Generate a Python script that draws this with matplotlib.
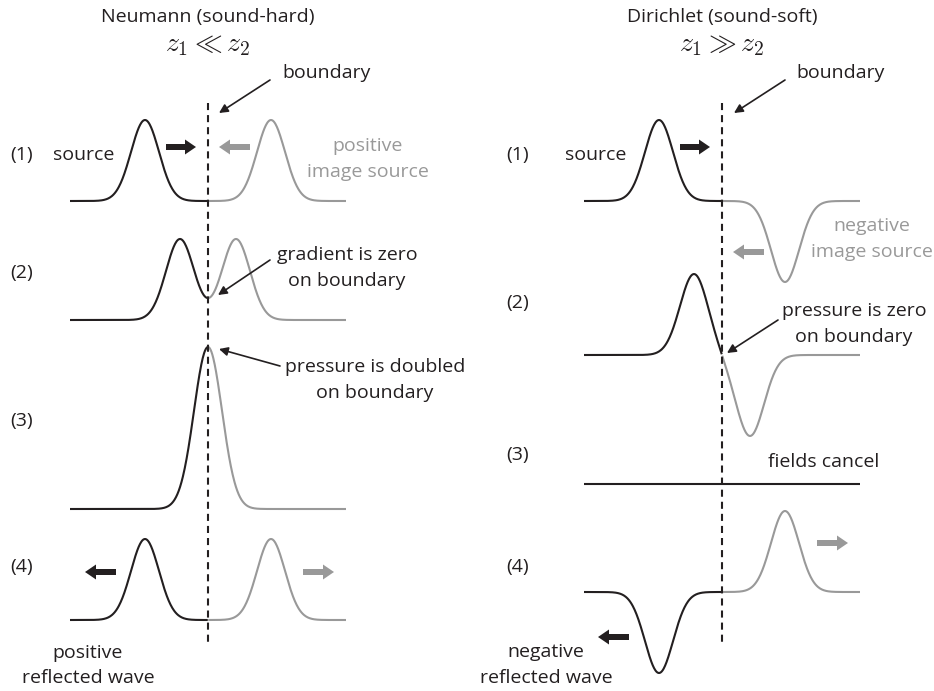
import numpy as np
import matplotlib
matplotlib.use("Agg")
import matplotlib.pyplot as plt

plt.rcParams['font.family'] = ['Open Sans', 'DejaVu Sans']
plt.rcParams['mathtext.fontset'] = 'cm'

# pulse description per time step (1)..(4)
# source offset from the boundary (px), image sits at the mirrored spot
src_offset = [-63, -28, 0, 63]
amplitude = 81
sigma = 14
image_sign_left = 1     # Neumann: positive image
image_sign_right = -1   # Dirichlet: negative image
row_labels = ['(1)', '(2)', '(3)', '(4)']

titles = ['Neumann (sound-hard)', 'Dirichlet (sound-soft)']
conditions = [r'$z_1 \ll z_2$', r'$z_1 \gg z_2$']

INK = '#231f20'
GREY = '#999999'

# layout (pixels)
xb = [208, 722]
half_span = 138
base_left = [201, 320, 509, 620]
base_right = [201, 355, 484, 592]
label_y_left = [155, 273, 421, 567]
label_y_right = [155, 303, 455, 567]

fig = plt.figure(figsize=(9.34, 6.91), dpi=100)
ax = fig.add_axes([0, 0, 1, 1])
ax.set_xlim(0, 934)
ax.set_ylim(691, 0)
ax.axis('off')


def pulse(x, c):
    return np.exp(-(x - c) ** 2 / (2 * sigma ** 2))


def draw_row(b, base, off, sign):
    x = np.linspace(b - half_span, b + half_span, 600)
    y = amplitude * pulse(x, b + off) + sign * amplitude * pulse(x, b - off)
    py = base - y
    left = x <= b
    right = x >= b
    flat = np.allclose(y, 0)
    ax.plot(x[left], py[left], color=INK, lw=1.5, solid_capstyle='butt')
    ax.plot(x[right], py[right], color=INK if flat else GREY, lw=1.5,
            solid_capstyle='butt')


for i in range(4):
    draw_row(xb[0], base_left[i], src_offset[i], image_sign_left)
    draw_row(xb[1], base_right[i], src_offset[i], image_sign_right)

# boundaries
for b in xb:
    ax.plot([b, b], [103, 645], color=INK, lw=1.5, ls=(0, (3.4, 2.4)))

fs = 14
for k, b in enumerate(xb):
    ax.text(b, 17, titles[k], ha='center', va='center', fontsize=fs, color=INK)
    ax.text(b, 44, conditions[k], ha='center', va='center', fontsize=20, color=INK)

for i in range(4):
    ax.text(22, label_y_left[i], row_labels[i], ha='center', va='center', fontsize=fs, color=INK)
    ax.text(518, label_y_right[i], row_labels[i], ha='center', va='center', fontsize=fs, color=INK)


def block_arrow(x0, x1, y, color):
    ax.arrow(x0, y, x1 - x0, 0, width=6, head_width=15, head_length=11,
             length_includes_head=True, color=color, lw=0)


def pointer(xy_from, xy_to):
    ax.annotate('', xy=xy_to, xytext=xy_from,
                arrowprops=dict(arrowstyle='-|>', color=INK, lw=1.2,
                                mutation_scale=13, shrinkA=0, shrinkB=0))


# left panel texts and arrows
ax.text(84, 155, 'source', ha='center', va='center', fontsize=fs, color=INK)
ax.text(368, 146, 'positive', ha='center', va='center', fontsize=fs, color=GREY)
ax.text(368, 172, 'image source', ha='center', va='center', fontsize=fs, color=GREY)
ax.text(327, 73, 'boundary', ha='center', va='center', fontsize=fs, color=INK)
pointer((270, 80), (219, 113))
block_arrow(166, 196, 147, INK)
block_arrow(250, 219, 147, GREY)

ax.text(347, 255, 'gradient is zero', ha='center', va='center', fontsize=fs, color=INK)
ax.text(347, 281, 'on boundary', ha='center', va='center', fontsize=fs, color=INK)
pointer((270, 260), (218, 295))

ax.text(375, 367, 'pressure is doubled', ha='center', va='center', fontsize=fs, color=INK)
ax.text(375, 393, 'on boundary', ha='center', va='center', fontsize=fs, color=INK)
pointer((280, 366), (219, 349))

block_arrow(116, 85, 572, INK)
block_arrow(303, 334, 572, GREY)
ax.text(88, 653, 'positive', ha='center', va='center', fontsize=fs, color=INK)
ax.text(88, 678, 'reflected wave', ha='center', va='center', fontsize=fs, color=INK)

# right panel texts and arrows
ax.text(596, 155, 'source', ha='center', va='center', fontsize=fs, color=INK)
ax.text(841, 73, 'boundary', ha='center', va='center', fontsize=fs, color=INK)
pointer((785, 80), (734, 113))
block_arrow(680, 710, 147, INK)

ax.text(872, 226, 'negative', ha='center', va='center', fontsize=fs, color=GREY)
ax.text(872, 252, 'image source', ha='center', va='center', fontsize=fs, color=GREY)
block_arrow(764, 733, 252, GREY)

ax.text(854, 311, 'pressure is zero', ha='center', va='center', fontsize=fs, color=INK)
ax.text(854, 337, 'on boundary', ha='center', va='center', fontsize=fs, color=INK)
pointer((778, 320), (727, 353))

ax.text(824, 462, 'fields cancel', ha='center', va='center', fontsize=fs, color=INK)

block_arrow(817, 848, 543, GREY)
block_arrow(629, 598, 637, INK)
ax.text(546, 652, 'negative', ha='center', va='center', fontsize=fs, color=INK)
ax.text(546, 678, 'reflected wave', ha='center', va='center', fontsize=fs, color=INK)

fig.savefig('out.png', dpi=100)
